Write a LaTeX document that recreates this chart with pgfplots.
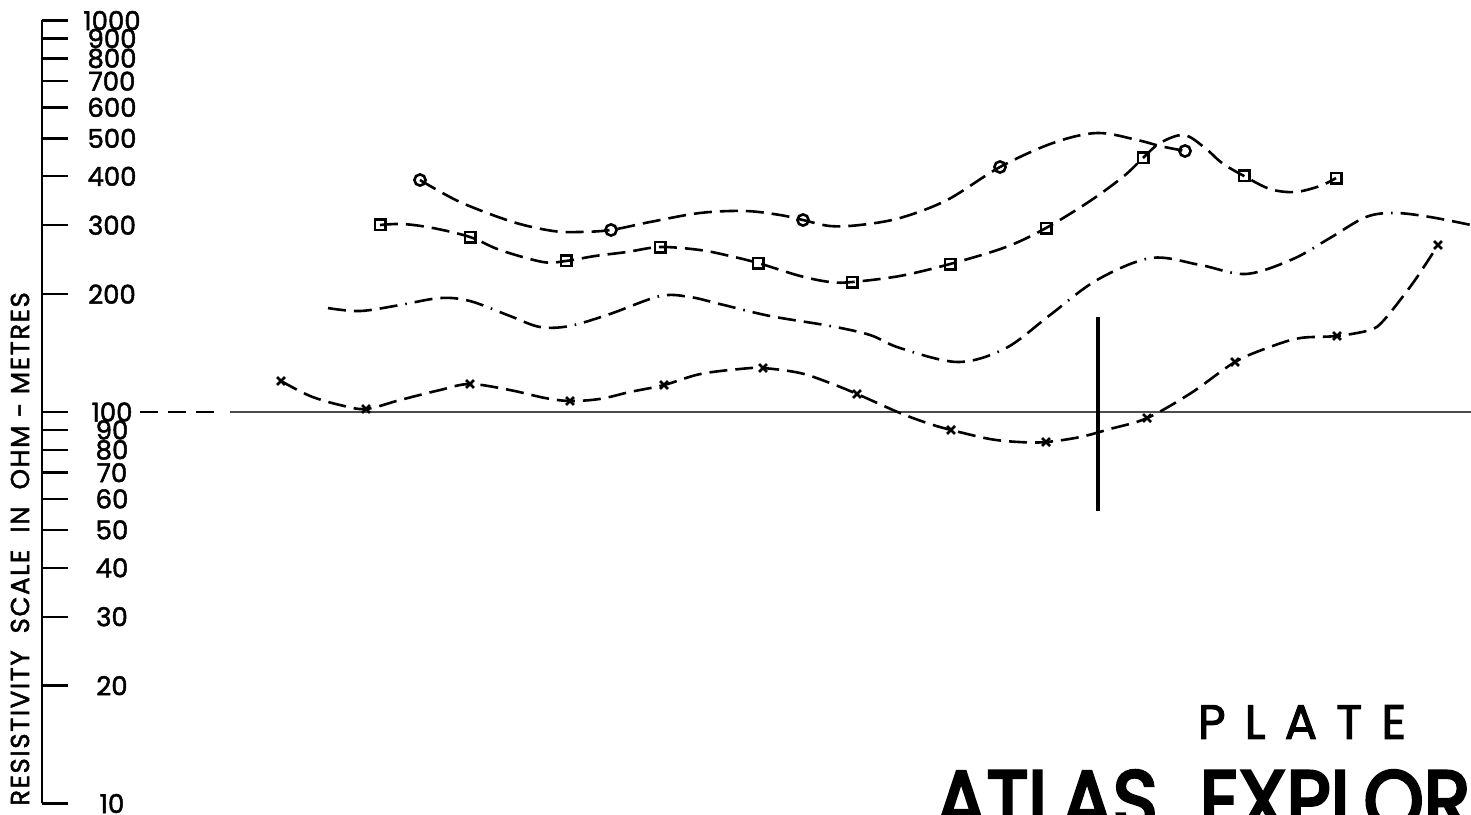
\documentclass[border=0pt]{standalone}
\usepackage{pgfplots}
\pgfplotsset{compat=1.18}
\usepackage{fontspec}
\setmainfont{Poppins}[FakeBold=1.8]
\newfontfamily\platefont{Poppins}[LetterSpace=40, FakeBold=2.2]
\newfontfamily\labelfont{Poppins}[LetterSpace=6, FakeBold=1.8]
\newfontfamily\titlefont{Poppins}[FakeBold=4]
\begin{document}
\begin{tikzpicture}
\path[use as bounding box] (0,0) rectangle (735.5pt,407pt);
\clip (0,0) rectangle (735.5pt,407pt);
% data axis: x in station units, y resistivity (log)
\begin{axis}[
  at={(0,0)}, anchor=south west, scale only axis,
  width=735.5pt, height=407pt,
  xmin=0, xmax=1471, ymode=log, ymin=9.403, ymax=1128.2,
  hide axis, clip=false,
  curve/.style={smooth, tension=0.55, line width=1.3pt, dash pattern=on 9pt off 4pt},
  mk/.style={only marks, line width=1.3pt, mark options={solid, fill=white}},
]
% 100 ohm-m reference line
\addplot[line width=1pt, black, dash pattern=on 9pt off 5pt] coordinates {(140,100) (214,100)};
\addplot[line width=1.1pt, black!70] coordinates {(230,100) (1471,100)};
% circles
\addplot[curve] coordinates {(420,391.4) (460,343.9) (513,305.7) (553,290.0) (580,288.3) (611,291.7) (650,305.7) (700,322.4) (745,326.2) (780,318.6) (803,309.3) (830,298.6) (860,300.4) (900,313.0) (947,347.9) (1000,422.5) (1053,486.6) (1097,516.0) (1137,495.3) (1160,478.0) (1185,464.2)};
\addplot[mk, mark=o, mark size=2.8pt] coordinates {(420,391.4) (611,291.7) (803,309.3) (1000,422.5) (1185,464.2)};
% squares
\addplot[curve] coordinates {(380,300.4) (403,302.1) (433,295.1) (470,279.9) (500,259.3) (543,241.6) (566,243.1) (595,250.3) (627,256.3) (660,263.9) (700,259.3) (730,250.3) (758,240.2) (800,222.6) (830,214.8) (852,214.8) (900,222.6) (950,238.8) (1006,263.9) (1046,295.1) (1090,345.9) (1124,400.7) (1143,445.5) (1160,486.6) (1184,510.0) (1205,472.5) (1222,432.5) (1244,400.7) (1270,371.2) (1295,364.7) (1320,377.9) (1336,396.0)};
\addplot[mk, mark=square, mark size=2.6pt] coordinates {(380,300.4) (470,279.9) (566,243.1) (660,263.9) (758,240.2) (852,214.8) (950,238.8) (1046,295.1) (1143,445.5) (1244,400.7) (1336,396.0)};
% dash-dot curve
\addplot[smooth, tension=0.55, line width=1.3pt, dash pattern=on 9pt off 4pt on 9pt off 4pt on 9pt off 4pt on 0.8pt off 4pt] coordinates {(328,184.3) (360,181.1) (400,187.6) (440,195.5) (470,192.1) (510,175.9) (540,164.9) (570,165.9) (610,178.0) (660,197.8) (690,196.7) (720,188.7) (770,175.9) (830,165.9) (870,157.3) (900,145.7) (958,134.2) (1006,145.7) (1050,176.9) (1097,217.4) (1151,247.4) (1200,237.5) (1246,225.2) (1293,245.9) (1330,278.3) (1366,314.9) (1395,322.4) (1430,314.9) (1471,300.4)};
% crosses
\addplot[curve] coordinates {(281,120.0) (310,109.9) (340,104.2) (366,101.8) (400,107.3) (440,113.8) (470,117.9) (510,113.8) (545,108.6) (570,106.7) (600,108.0) (630,112.5) (664,117.2) (700,125.0) (740,128.8) (763,129.5) (800,125.8) (830,118.6) (857,111.2) (900,99.4) (930,93.2) (951,90.0) (990,85.3) (1020,83.8) (1046,83.8) (1080,86.3) (1110,90.5) (1147,96.5) (1191,111.8) (1235,134.2) (1270,146.6) (1300,154.5) (1337,156.4) (1370,162.0) (1384,171.8) (1410,208.6) (1424,235.1) (1438,267.1)};
\addplot[mk, mark=x, mark size=2.8pt, line width=1.3pt] coordinates {(281,120.0) (366,101.8) (470,117.9) (570,106.7) (664,117.2) (763,129.5) (857,111.2) (951,90.0) (1046,83.8) (1147,96.5) (1235,134.2) (1337,156.4) (1438,267.1)};
% vertical marker bar
\addplot[line width=2.4pt] coordinates {(1098,174.8) (1098,55.9)};
% titles
\node[rotate=90, font=\labelfont\fontsize{13}{13}\selectfont, inner sep=0pt] at (rel axis cs:0.0136,0.3256) {RESISTIVITY\ \ SCALE\ \ IN\ \ OHM - METRES};
\node[font=\platefont\fontsize{24}{24}\selectfont, inner sep=0pt] at (rel axis cs:0.8851,0.1130) {PLATE};
\node[anchor=north west, inner sep=0pt, font=\titlefont\fontsize{42}{42}\selectfont] at (rel axis cs:0.6356,0.05405) {\scalebox{0.91}[1]{ATLAS\hspace{0.55em}EXPLORATION}};
\end{axis}
% resistivity scale
\begin{axis}[
  at={(21pt,5.25pt)}, anchor=south west, scale only axis,
  width=10pt, height=391.5pt,
  xmin=0, xmax=1, ymode=log, ymin=10, ymax=1000,
  axis x line=none, axis y line=left,
  axis line style={-, line width=0.7pt},
  ytick={10,20,30,40,50,60,70,80,90,100,200,300,400,500,600,700,800,900,1000},
  yticklabels={10,20,30,40,50,60,70,80,90,100,200,300,400,500,600,700,800,900,1000},
  minor ytick={},
  tick align=inside, major tick length=13pt,
  tick style={line width=1.2pt, black},
  yticklabel style={anchor=center, xshift=35pt, font=\fontsize{13}{13}\selectfont},
]
\addplot[draw=none] coordinates {(0,10) (1,1000)};
\end{axis}
\end{tikzpicture}
\end{document}
